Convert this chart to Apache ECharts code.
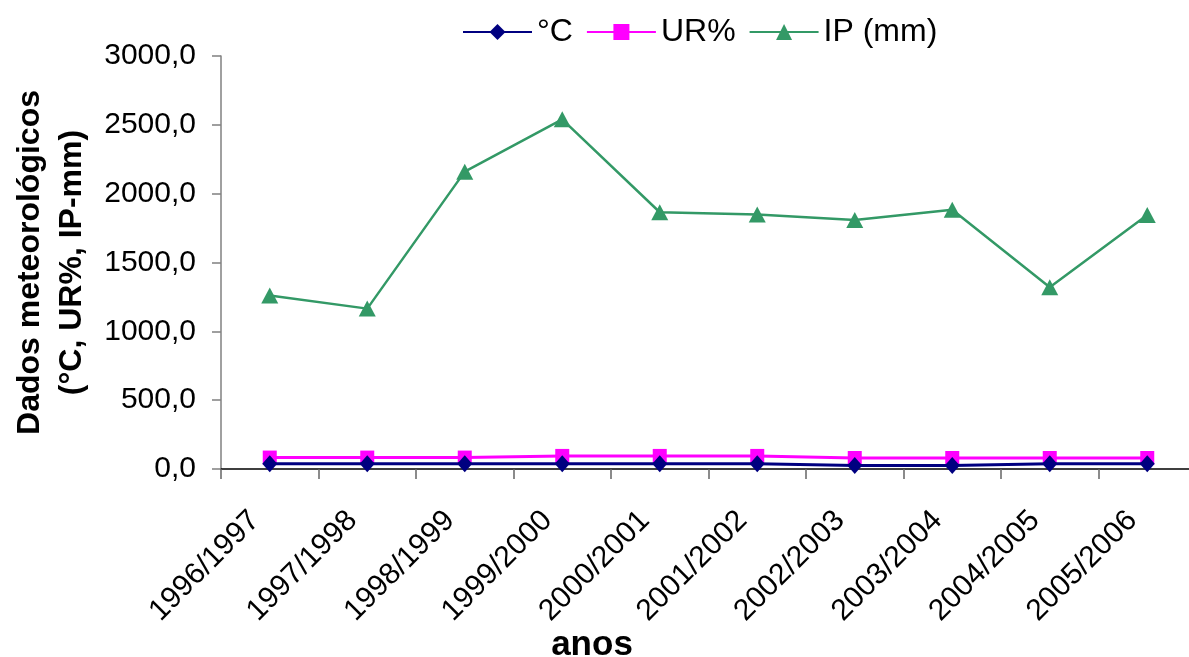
<!DOCTYPE html>
<html>
<head>
<meta charset="utf-8">
<script src="https://cdn.jsdelivr.net/npm/echarts@6/dist/echarts.min.js"></script>
<style>
html,body{margin:0;padding:0;background:#fff;}
#c{width:1189px;height:657px;}
</style>
</head>
<body>
<div id="c"></div>
<script>
var categories = ['1996/1997','1997/1998','1998/1999','1999/2000','2000/2001','2001/2002','2002/2003','2003/2004','2004/2005','2005/2006'];
var tempC = [38, 38, 38, 38, 38, 38, 25, 25, 38, 38];
var urPct = [83, 83, 83, 95, 95, 95, 80, 80, 80, 80];
var ipMm = [1260, 1165, 2160, 2540, 1865, 1848, 1808, 1883, 1320, 1845];
var yTicks = [0, 500, 1000, 1500, 2000, 2500, 3000];

var FONT = 'Liberation Sans, Arial, sans-serif';
var chart = echarts.init(document.getElementById('c'), null, {renderer: 'canvas'});
chart.setOption({
  animation: false,
  backgroundColor: '#ffffff',
  title: {
    text: 'anos',
    left: 592,
    top: 628,
    textAlign: 'center',
    padding: 0,
    textStyle: {fontFamily: FONT, fontSize: 35, fontWeight: 'bold', color: '#000'}
  },
  legend: {
    left: 457,
    top: 11,
    itemWidth: 69,
    itemHeight: 20,
    itemGap: 13,
    textStyle: {fontFamily: FONT, fontSize: 32, color: '#000'},
    data: ['°C', 'UR%', 'IP (mm)']
  },
  grid: {left: 221, right: -7, top: 56, bottom: 188, containLabel: false, outerBoundsMode: 'none'},
  xAxis: {
    type: 'category',
    data: categories,
    boundaryGap: true,
    axisLine: {lineStyle: {color: '#000', width: 1.5}},
    axisTick: {show: true, length: 10, lineStyle: {color: '#666', width: 1.5}},
    axisLabel: {rotate: 45, fontFamily: FONT, fontSize: 30, color: '#000', margin: 32, padding: [0, 21, 0, 0], interval: 0}
  },
  yAxis: {
    type: 'value',
    min: yTicks[0],
    max: yTicks[yTicks.length - 1],
    interval: 500,
    name: 'Dados meteorológicos\n(°C, UR%, IP-mm)',
    nameLocation: 'middle',
    nameGap: 126,
    nameTextStyle: {fontFamily: FONT, fontSize: 32, fontWeight: 'bold', color: '#000', lineHeight: 42},
    axisLine: {show: true, lineStyle: {color: '#808080', width: 1.5}},
    axisTick: {show: true, length: 9, lineStyle: {color: '#808080', width: 1.5}},
    splitLine: {show: false},
    axisLabel: {
      fontFamily: FONT, fontSize: 30, color: '#000', margin: 25,
      formatter: function (v) { return v.toFixed(1).replace('.', ','); }
    }
  },
  series: [
    {
      name: '°C', type: 'line', data: tempC,
      symbol: 'diamond', symbolSize: [15, 17],
      lineStyle: {color: '#000080', width: 3},
      itemStyle: {color: '#000080'}, z: 4
    },
    {
      name: 'UR%', type: 'line', data: urPct,
      symbol: 'rect', symbolSize: 14,
      lineStyle: {color: '#FF00FF', width: 3},
      itemStyle: {color: '#FF00FF'}, z: 3
    },
    {
      name: 'IP (mm)', type: 'line', data: ipMm,
      symbol: 'triangle', symbolSize: [17, 16],
      lineStyle: {color: '#339966', width: 2.5},
      itemStyle: {color: '#339966'}, z: 2
    }
  ]
});
</script>
</body>
</html>
